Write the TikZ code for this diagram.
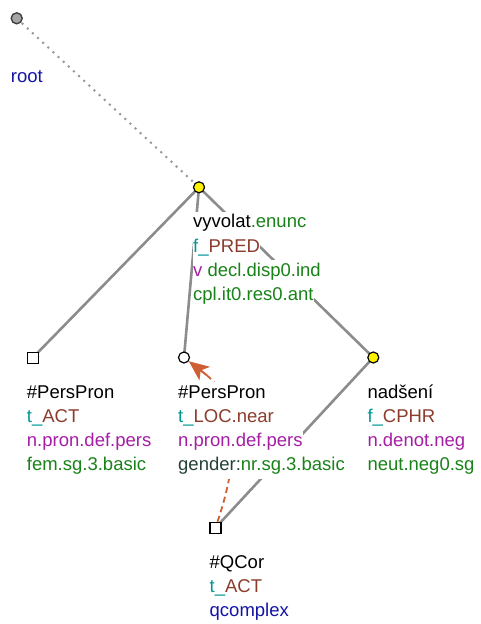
\documentclass[tikz,border=0pt]{standalone}
\usepackage{fontspec}
\setmainfont{Liberation Sans}
\usetikzlibrary{arrows.meta}
\definecolor{cteal}{RGB}{0,150,150}
\definecolor{cfunc}{RGB}{140,60,45}
\definecolor{cmag}{RGB}{165,30,165}
\definecolor{cgreen}{RGB}{25,130,25}
\definecolor{cblue}{RGB}{20,20,165}
\definecolor{cdark}{RGB}{35,65,55}
\definecolor{corange}{RGB}{205,95,50}
\definecolor{cedge}{RGB}{140,140,140}
\definecolor{cdot}{RGB}{150,150,150}
\definecolor{croot}{RGB}{165,165,165}
\pgfdeclarelayer{bg}
\pgfsetlayers{bg,main}
\begin{document}
\begin{tikzpicture}[x=1bp,y=-1bp,
  lbl/.style={anchor=base west, inner sep=0pt, fill=white, text height=16.3bp, text depth=8bp,
    font=\fontsize{18.5bp}{24bp}\selectfont},
  yelnode/.style={circle, draw=black, line width=1.2bp, fill=yellow, minimum size=11bp, inner sep=0pt},
  whitenode/.style={circle, draw=black, line width=1.2bp, fill=white, minimum size=11bp, inner sep=0pt},
  rootnode/.style={circle, draw=black!75, line width=1.4bp, fill=croot, minimum size=11bp, inner sep=0pt},
  sqnode/.style={rectangle, draw=black, line width=1.2bp, fill=white, minimum size=11bp, inner sep=0pt},
  edge/.style={draw=cedge, line width=2.6bp},
  rootedge/.style={draw=cdot, line width=2bp, dash pattern=on 2bp off 5bp},
  coref/.style={draw=corange, line width=1.8bp, dash pattern=on 6bp off 4bp},
  coreftip/.style={draw=corange, fill=corange, line width=2bp,
    -{Stealth[length=20bp,width=17bp,inset=5bp]}}
]
\useasboundingbox (0,0) rectangle (481,624);

% tree nodes
\node[rootnode] (root) at (16.7,18.3) {};
\node[yelnode] (vyv) at (199,187.3) {};
\node[sqnode] (pp1) at (32.7,357.8) {};
\node[whitenode] (pp2) at (184,357.5) {};
\node[yelnode] (nad) at (373.3,357.5) {};
\node[sqnode] (qc) at (215.5,527.8) {};
\coordinate (cortail) at (206.5,375);

% labels
\node[lbl] (rootl2) at (10.7,83) {\textcolor{cblue}{root}};

\node[lbl] (vyvl1) at (193,227.8) {vyvolat\textcolor{cgreen}{.enunc}};
\node[lbl] (vyvl2) at (193,252) {\textcolor{cteal}{f\_}\textcolor{cfunc}{PRED}};
\node[lbl] (vyvl3) at (193,276.2) {\textcolor{cmag}{v}\ \textcolor{cgreen}{decl.disp0.ind}};
\node[lbl] (vyvl4) at (193,300.4) {\textcolor{cgreen}{cpl.it0.res0.ant}};

\node[lbl] (pp1l1) at (26.7,398) {\#PersPron};
\node[lbl] (pp1l2) at (26.7,422.2) {\textcolor{cteal}{t\_}\textcolor{cfunc}{ACT}};
\node[lbl] (pp1l3) at (26.7,446.4) {\textcolor{cmag}{n.pron.def.pers}};
\node[lbl] (pp1l4) at (26.7,470.6) {\textcolor{cgreen}{fem.sg.3.basic}};

\node[lbl] (pp2l1) at (178,398) {\#PersPron};
\node[lbl] (pp2l2) at (178,422.2) {\textcolor{cteal}{t\_}\textcolor{cfunc}{LOC.near}};
\node[lbl] (pp2l3) at (178,446.4) {\textcolor{cmag}{n.pron.def.pers}};
\node[lbl] (pp2l4) at (178,470.6) {\textcolor{cdark}{gender:}\textcolor{cgreen}{nr.sg.3.basic}};

\node[lbl] (nadl1) at (367.3,398) {nadšení};
\node[lbl] (nadl2) at (367.3,422.2) {\textcolor{cteal}{f\_}\textcolor{cfunc}{CPHR}};
\node[lbl] (nadl3) at (367.3,446.4) {\textcolor{cmag}{n.denot.neg}};
\node[lbl] (nadl4) at (367.3,470.6) {\textcolor{cgreen}{neut.neg0.sg}};

\node[lbl] (qcl1) at (209.5,568.3) {\#QCor};
\node[lbl] (qcl2) at (209.5,592.5) {\textcolor{cteal}{t\_}\textcolor{cfunc}{ACT}};
\node[lbl] (qcl3) at (209.5,616.7) {\textcolor{cblue}{qcomplex}};

% connectors (behind)
\begin{pgfonlayer}{bg}
\draw[rootedge] (root.center) -- (vyv.center);
\draw[edge] (vyv.center) -- (pp1.center);
\draw[edge] (vyv.center) -- (pp2.center);
\draw[edge] (vyv.center) -- (nad.center);
\draw[edge] (nad.center) -- (qc.center);
\draw[coref] (qc) .. controls (240.9,451.7) and (238.1,400.9) .. (cortail);
\draw[coreftip] (cortail) -- (pp2);
\end{pgfonlayer}
\end{tikzpicture}
\end{document}
